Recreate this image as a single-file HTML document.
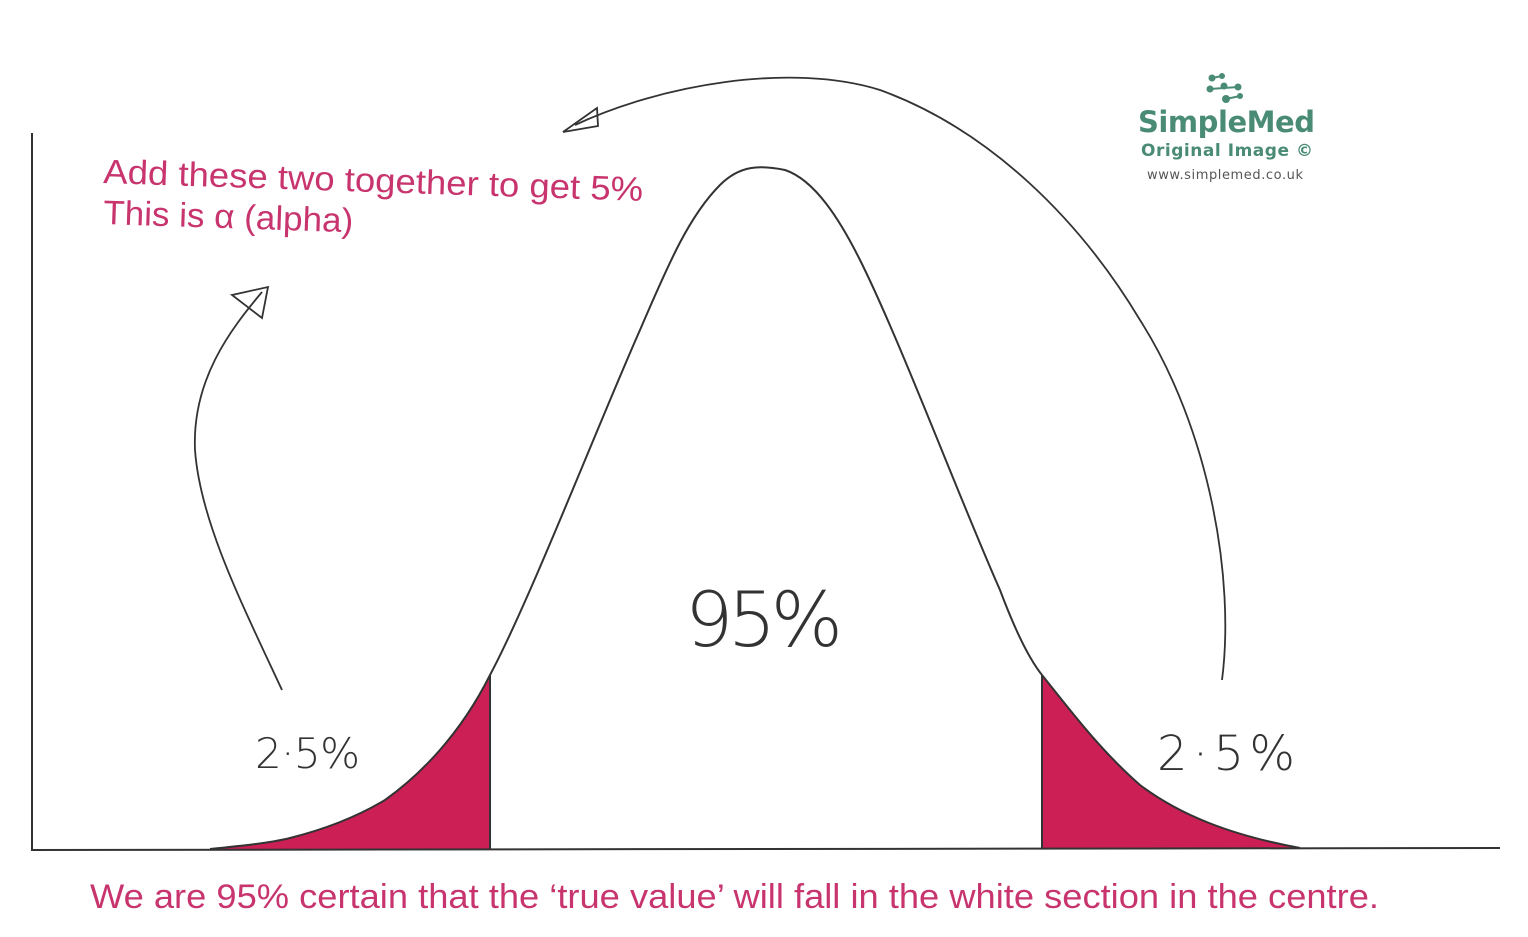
<!DOCTYPE html>
<html><head><meta charset="utf-8"><style>
html,body{margin:0;padding:0;background:#fff;}
svg{display:block;}
</style></head><body>
<svg width="1528" height="937" viewBox="0 0 1528 937" xmlns="http://www.w3.org/2000/svg">
<rect width="1528" height="937" fill="#fff"/>
<path d="M210,849 C240,846 270,843 290,838 C330,828 360,815 385,800 C420,775 460,735 490,675 L490,849 Z" fill="#cc1f55"/>
<path d="M1042,675 C1070,710 1100,750 1140,785 C1180,815 1230,835 1300,848 L1042,849 Z" fill="#cc1f55"/>
<path d="M32,133 L32,850 L1500,848" fill="none" stroke="#333" stroke-width="2"/>
<path d="M210,849 C240,846 270,843 290,838 C330,828 360,815 385,800 C420,775 460,735 490,675 C530,600 600,420 640,330 C670,260 690,215 720,185 C740,165 760,165 785,170 C815,180 840,220 860,260 C900,340 960,500 1000,590 C1015,630 1030,660 1042,675 C1070,710 1100,750 1140,785 C1180,815 1230,835 1300,848" fill="none" stroke="#333" stroke-width="2"/>
<line x1="490" y1="675" x2="490" y2="849" stroke="#333" stroke-width="2"/>
<line x1="1042" y1="675" x2="1042" y2="849" stroke="#333" stroke-width="2"/>
<path d="M1222,680 C1235,580 1210,430 1140,320 C1080,220 990,130 880,90 C790,62 660,85 575,125" fill="none" stroke="#333" stroke-width="1.8"/>
<path d="M597,108 L563,132 L598,126 Z" fill="none" stroke="#333" stroke-width="1.8"/>
<path d="M282,690 C240,600 200,520 195,450 C192,380 230,330 262,292" fill="none" stroke="#333" stroke-width="1.8"/>
<path d="M232,295 L268,287 L262,318 Z" fill="none" stroke="#333" stroke-width="1.8"/>
<g font-family="'DejaVu Sans', sans-serif" font-weight="200" fill="#333">
<text x="255" y="768" font-size="42" textLength="105">2·5%</text>
<text x="1157" y="770" font-size="48" textLength="138">2·5%</text>
<text x="685" y="646" font-size="76" textLength="158">95%</text>
</g>
<g font-family="'Liberation Sans', sans-serif" fill="#c8356e">
<text x="103" y="183" font-size="34" transform="rotate(1.9 103 183)" textLength="540" lengthAdjust="spacingAndGlyphs">Add these two together to get 5%</text>
<text x="103" y="224" font-size="34" transform="rotate(1.9 103 224)" textLength="250" lengthAdjust="spacingAndGlyphs">This is α (alpha)</text>
<text x="90" y="908" font-size="34" textLength="1289" lengthAdjust="spacingAndGlyphs">We are 95% certain that the ‘true value’ will fall in the white section in the centre.</text>
</g>
<g fill="#4a8b76">
<circle cx="1212" cy="78" r="3.5"/><circle cx="1222" cy="76" r="3"/>
<circle cx="1210" cy="89" r="3.5"/><circle cx="1224" cy="86" r="3.5"/><circle cx="1238" cy="87" r="3.5"/>
<circle cx="1226" cy="99" r="4"/><circle cx="1240" cy="96" r="3"/>
<path d="M1212,78 L1222,76 M1210,89 L1238,87 M1226,99 L1240,96" stroke="#4a8b76" stroke-width="2"/>
<text x="1138" y="132" font-family="'DejaVu Sans', sans-serif" font-weight="bold" font-size="29" textLength="177">SimpleMed</text>
<text x="1141" y="156" font-family="'DejaVu Sans', sans-serif" font-weight="bold" font-size="17" textLength="172">Original Image ©</text>
<text x="1147" y="179" font-family="'DejaVu Sans', sans-serif" font-size="13" fill="#555" textLength="156">www.simplemed.co.uk</text>
</g>
</svg>
</body></html>
